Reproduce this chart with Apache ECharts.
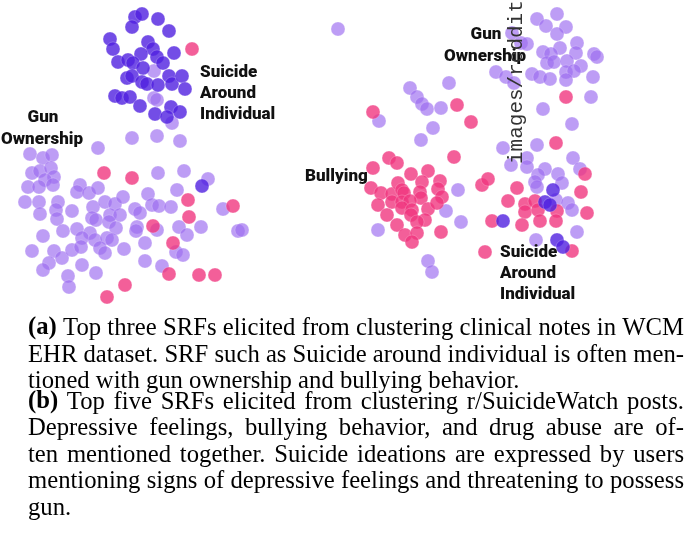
<!DOCTYPE html>
<html><head><meta charset="utf-8">
<script src="https://cdn.jsdelivr.net/npm/echarts@6/dist/echarts.min.js"></script>
<style>html,body{margin:0;padding:0;background:#fff}#c{width:686px;height:553px}</style>
</head><body><div id="c"></div>
<script>
// ---- Panel (a): WCM EHR clinical notes (embedding coordinates) ----
const leftSuicide = [[135,17],[142,14],[158,19],[132,27],[169,31],[110,39],[113,49],[148,42],[153,49],[141,54],[174,53],
 [118,62],[128,60],[133,63],[157,57],[163,63],[143,68],[127,78],[132,76],[142,82],[147,84],[158,85],[169,76],[172,84],
 [182,76],[185,89],[115,96],[122,98],[130,97],[140,106],[155,114],[171,107],[180,112],[167,117],[202,186]];
const leftGun = [[154,71],[154,98],[157,100],[172,123],[132,138],[157,136],[180,141],[98,148],[30,154],[43,158],[52,155],
 [32,173],[40,171],[51,168],[54,177],[45,180],[28,187],[39,187],[53,185],[80,185],[77,192],[89,193],[98,188],
 [25,202],[39,202],[58,202],[40,214],[56,210],[57,219],[72,211],[93,207],[105,202],[115,204],[123,197],
 [92,218],[96,220],[110,215],[120,215],[109,222],[116,228],[43,236],[63,231],[77,229],[90,233],[82,238],[95,240],
 [107,238],[112,240],[32,251],[54,251],[62,258],[72,250],[81,247],[100,248],[105,253],[124,249],[49,263],[43,270],
 [82,265],[96,273],[68,276],[69,287],[158,173],[184,171],[208,179],[177,190],[148,194],[135,209],[140,213],[152,205],
 [159,206],[171,207],[223,209],[137,227],[136,231],[157,230],[179,227],[187,235],[201,227],[238,231],[242,230],
 [145,243],[176,252],[183,255],[145,261],[162,266]];
const leftBully = [[192,49],[104,173],[132,178],[188,200],[189,217],[233,206],[153,226],[173,243],[169,274],[199,275],
 [215,275],[125,285],[107,297]];

// ---- Panel (b): r/SuicideWatch posts ----
const rightGun = [[338,29],[537,19],[557,14],[546,26],[566,27],[557,34],[512,33],[521,43],[527,44],[577,43],[543,52],
 [560,48],[551,54],[576,53],[594,54],[597,57],[547,63],[554,62],[567,61],[581,66],[566,72],[574,71],[532,74],[540,77],
 [550,79],[566,80],[593,77],[496,72],[506,77],[514,83],[591,97],[543,109],[572,124],[537,145],[503,148],[527,158],
 [573,158],[449,83],[410,88],[417,97],[422,104],[427,109],[441,108],[379,121],[433,128],[421,140],[580,169],[511,165],
 [527,167],[545,169],[538,175],[558,174],[535,182],[562,183],[537,187],[556,200],[568,203],[572,210],[577,232],
 [536,240],[458,190],[446,211],[461,222],[378,230],[428,261],[432,272]];
const rightSuicide = [[553,190],[545,202],[550,205],[503,221],[557,240],[563,247]];
const rightBully = [[373,112],[457,105],[471,122],[566,97],[556,143],[389,158],[397,163],[454,157],[373,168],[411,174],
 [428,171],[371,188],[381,193],[392,194],[398,183],[402,190],[404,193],[422,182],[420,192],[421,198],[440,181],
 [438,189],[442,197],[378,205],[392,202],[402,202],[410,201],[402,208],[412,210],[428,209],[437,203],[387,215],
 [411,215],[425,220],[417,222],[397,225],[405,235],[417,233],[412,242],[441,232],[482,185],[488,179],[517,188],
 [585,174],[581,192],[508,201],[525,204],[535,201],[587,213],[525,212],[538,210],[557,211],[492,221],[522,225],
 [540,221],[556,221],[572,251],[485,252]];

const captionLines = [
 '(a) Top three SRFs elicited from clustering clinical notes in WCM',
 'EHR dataset. SRF such as Suicide around individual is often men-',
 'tioned with gun ownership and bullying behavior.',
 '(b) Top five SRFs elicited from clustering r/SuicideWatch posts.',
 'Depressive feelings, bullying behavior, and drug abuse are of-',
 'ten mentioned together. Suicide ideations are expressed by users',
 'mentioning signs of depressive feelings and threatening to possess',
 'gun.'
];
const captionJustify = [true,true,false,true,true,true,true,false];
const captionY = [328,355,381,402,428,455,481,508];

const COL_GUN = '#9d6ff0', COL_SUI = '#5020e0', COL_BUL = '#f0377f';

// caption layout
const F = 25, LEFT = 28, RIGHT = 684;
const ctx = document.createElement('canvas').getContext('2d');
function fontOf(b){ return (b?'bold ':'') + F + 'px "Liberation Serif"'; }
function mw(t,b){ ctx.font = fontOf(b); return ctx.measureText(t).width; }
const isBold = t => /^\([ab]\)$/.test(t);
function natural(line){ const toks=line.split(' '); return toks.reduce((a,t)=>a+mw(t,isBold(t)),0) + (toks.length-1)*mw(' ',false); }
// horizontal condensation: tightest justified line fits with normal spaces
let sx = 10;
captionLines.forEach((l,i)=>{ if(captionJustify[i]) sx = Math.min(sx, (RIGHT-LEFT)/natural(l)); });
const graphics = [];
captionLines.forEach((line, i) => {
  const toks = line.split(' ');
  const ws = toks.map(t => mw(t, isBold(t)) * sx);
  const sum = ws.reduce((a,b)=>a+b,0);
  const gap = captionJustify[i] ? (RIGHT - LEFT - sum) / (toks.length - 1) : mw(' ', false) * sx;
  let x = LEFT;
  toks.forEach((t, j) => {
    graphics.push({type:'text', x:x, y:captionY[i], scaleX:sx, silent:true,
      style:{text:t, font:fontOf(isBold(t)), fill:'#000', textAlign:'left', textVerticalAlign:'middle', align:'left', verticalAlign:'middle'}});
    x += ws[j] + gap;
  });
});

function label(txt, x, y, align){
  graphics.push({type:'text', x:x, y:y, silent:true, z:100,
    style:{text:txt, font:'900 17px Roboto', fill:'#111', textAlign:align, textVerticalAlign:'middle', align:align, verticalAlign:'middle'}});
}
label('Suicide', 200, 73, 'left'); label('Around', 200, 94, 'left'); label('Individual', 200, 115, 'left');
label('Gun', 43, 118, 'center'); label('Ownership', 42, 140, 'center');
label('Gun', 486, 35, 'center'); label('Ownership', 485, 57, 'center');
label('Bullying', 305, 177, 'left');
label('Suicide', 500, 253, 'left'); label('Around', 500, 274, 'left'); label('Individual', 500, 295, 'left');
graphics.push({type:'text', x:516, y:164, rotation:Math.PI/2, silent:true, z:101,
  style:{text:'images/reddit', font:'21px "Liberation Mono"', fill:'#333', textAlign:'left', textVerticalAlign:'middle', align:'left', verticalAlign:'middle'}});

function sc(name, data, color, op, gi){
  return {name, type:'scatter', xAxisIndex:gi, yAxisIndex:gi, data, symbolSize:14, silent:true,
    itemStyle:{color, opacity:op, borderColor:'rgba(255,255,255,0.35)', borderWidth:0.8}};
}
const chart = echarts.init(document.getElementById('c'), null, {renderer:'canvas'});
chart.setOption({
  animation:false,
  grid:[{left:0, top:0, width:300, height:310},{left:300, top:0, width:386, height:310}],
  xAxis:[{gridIndex:0, type:'value', min:0, max:300, show:false},{gridIndex:1, type:'value', min:300, max:686, show:false}],
  yAxis:[{gridIndex:0, type:'value', min:0, max:310, inverse:true, show:false},{gridIndex:1, type:'value', min:0, max:310, inverse:true, show:false}],
  series:[
    sc('Gun Ownership', leftGun, COL_GUN, 0.68, 0),
    sc('Bullying', leftBully, COL_BUL, 0.8, 0),
    sc('Suicide Around Individual', leftSuicide, COL_SUI, 0.8, 0),
    sc('Gun Ownership', rightGun, COL_GUN, 0.68, 1),
    sc('Bullying', rightBully, COL_BUL, 0.8, 1),
    sc('Suicide Around Individual', rightSuicide, COL_SUI, 0.8, 1)
  ],
  graphic: graphics
});
</script></body></html>
